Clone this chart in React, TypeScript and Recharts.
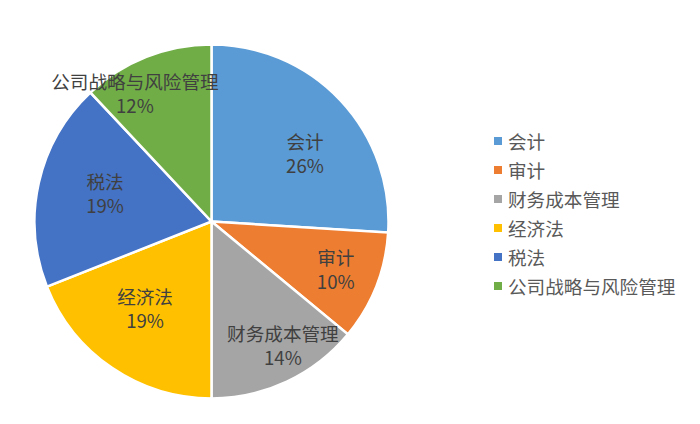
import React from "react";
import { PieChart, Pie, Cell, Legend } from "recharts";

const categories = ["会计", "审计", "财务成本管理", "经济法", "税法", "公司战略与风险管理"];
const shares = [26, 10, 14, 19, 19, 12];
const colors = ["#5B9BD5", "#ED7D31", "#A5A5A5", "#FFC000", "#4472C4", "#70AD47"];
// label placement (Excel "best fit" look): radius fraction and angle nudge in degrees
const labelRadiusFraction = [0.648, 0.755, 0.814, 0.625, 0.62, 0.835];
const labelAngleNudge = [-7.8, 0, 4.5, -2.7, -1.4, 9.6];

const data = categories.map((name, i) => ({ name, value: shares[i] }));

const FONT = "'Microsoft YaHei', 'Noto Sans CJK SC', 'Noto Sans', sans-serif";
const RAD = Math.PI / 180;

const renderLabel = (props: any) => {
  const { cx, cy, midAngle, outerRadius, index, percent } = props;
  const r = outerRadius * labelRadiusFraction[index];
  const a = midAngle + labelAngleNudge[index];
  const x = cx + r * Math.cos(-a * RAD);
  const y = cy + r * Math.sin(-a * RAD);
  return (
    <g>
      <text x={x} y={y - 6} textAnchor="middle" fill="#404040" fontSize={18.6} fontFamily={FONT}>
        {categories[index]}
      </text>
      <text x={x} y={y + 18} textAnchor="middle" fill="#404040" fontSize={18.6} fontFamily={FONT}>
        {`${Math.round(percent * 100)}%`}
      </text>
    </g>
  );
};

const renderLegend = () => (
  <div style={{ fontFamily: FONT, fontSize: 18.6, color: "#595959" }}>
    {categories.map((c, i) => (
      <div key={c} style={{ display: "flex", alignItems: "center", height: 29 }}>
        <span
          style={{
            display: "inline-block",
            width: 8,
            height: 8,
            background: colors[i],
            marginRight: 6,
          }}
        />
        <span style={{ lineHeight: "29px" }}>{c}</span>
      </div>
    ))}
  </div>
);

export default function App() {
  return (
    <div style={{ position: "absolute", left: 0, top: 0, width: 700, height: 424, background: "#fff" }}>
      <PieChart width={700} height={424} margin={{ top: 0, right: 0, bottom: 0, left: 0 }}>
        <Pie
          data={data}
          dataKey="value"
          nameKey="name"
          cx={211.5}
          cy={221.5}
          outerRadius={177}
          startAngle={90}
          endAngle={-270}
          stroke="#ffffff"
          strokeWidth={2.5}
          label={renderLabel}
          labelLine={false}
          isAnimationActive={false}
        >
          {data.map((d, i) => (
            <Cell key={d.name} fill={colors[i]} />
          ))}
        </Pie>
        <Legend
          content={renderLegend}
          layout="vertical"
          wrapperStyle={{ position: "absolute", left: 494, top: 126, width: 200 }}
        />
      </PieChart>
    </div>
  );
}
